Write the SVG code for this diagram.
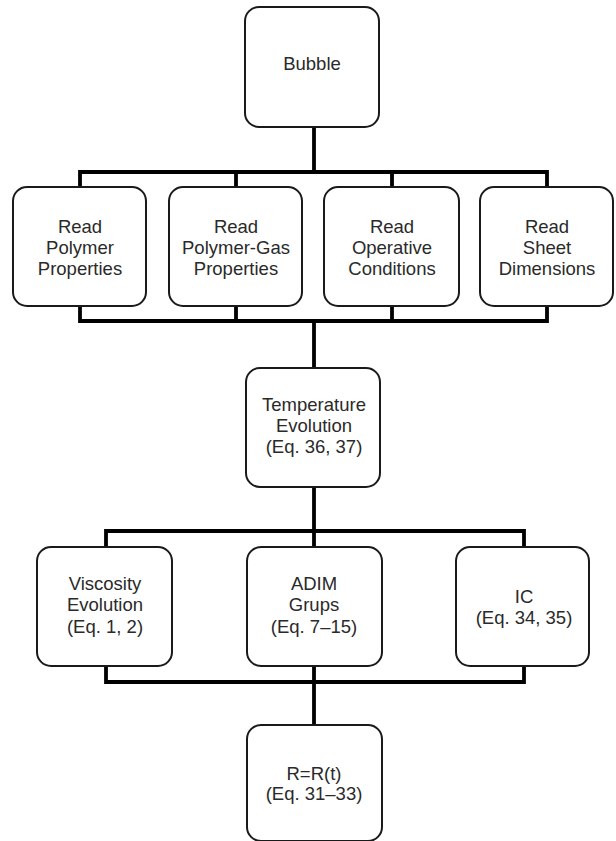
<svg xmlns="http://www.w3.org/2000/svg" width="616" height="841" viewBox="0 0 616 841">
<style>
.box{fill:#fff;stroke:#1a1a1a;stroke-width:2}
.t{font-family:"Liberation Sans",Arial,sans-serif;font-size:18.5px;fill:#2a2a2a;text-anchor:middle}
.c{fill:none;stroke:#000;stroke-width:3.8;stroke-linecap:square}
</style>
<rect width="616" height="841" fill="#fff"/>
<g id="connectors">
<path class="c" d="M314 127V172M80 172H547M80 172V187M236 172V187M392 172V187M547 172V187"/>
<path class="c" d="M80 306V321M236 306V321M392 306V321M547 306V321M80 321H547M314 321V368"/>
<path class="c" d="M314 487V531M106 531H524M106 531V547M314 531V547M524 531V547"/>
<path class="c" d="M106 666V682M314 666V682M524 666V682M106 682H524M314 682V725"/>
</g>
<g id="bubble"><rect class="box" x="245" y="7" width="134" height="120" rx="14"/><text class="t" x="312" y="70">Bubble</text></g>
<g id="read-polymer"><rect class="box" x="13" y="187" width="133" height="119" rx="14"/><text class="t" x="80" y="233">Read</text><text class="t" x="80" y="254">Polymer</text><text class="t" x="80" y="275">Properties</text></g>
<g id="read-polymer-gas"><rect class="box" x="169" y="187" width="133" height="119" rx="14"/><text class="t" x="236" y="233">Read</text><text class="t" x="236" y="254">Polymer-Gas</text><text class="t" x="236" y="275">Properties</text></g>
<g id="read-operative"><rect class="box" x="324" y="187" width="135" height="119" rx="14"/><text class="t" x="392" y="233">Read</text><text class="t" x="392" y="254">Operative</text><text class="t" x="392" y="275">Conditions</text></g>
<g id="read-sheet"><rect class="box" x="480" y="187" width="133" height="119" rx="14"/><text class="t" x="547" y="233">Read</text><text class="t" x="547" y="254">Sheet</text><text class="t" x="547" y="275">Dimensions</text></g>
<g id="temperature"><rect class="box" x="246" y="368" width="134" height="119" rx="14"/><text class="t" x="314" y="411">Temperature</text><text class="t" x="314" y="432">Evolution</text><text class="t" x="314" y="453">(Eq. 36, 37)</text></g>
<g id="viscosity"><rect class="box" x="37" y="547" width="135" height="119" rx="14"/><text class="t" x="105" y="590">Viscosity</text><text class="t" x="105" y="611">Evolution</text><text class="t" x="105" y="633">(Eq. 1, 2)</text></g>
<g id="adim"><rect class="box" x="247" y="547" width="135" height="119" rx="14"/><text class="t" x="314" y="590">ADIM</text><text class="t" x="314" y="611">Grups</text><text class="t" x="314" y="633">(Eq. 7–15)</text></g>
<g id="ic"><rect class="box" x="456" y="547" width="133" height="119" rx="14"/><text class="t" x="524" y="603">IC</text><text class="t" x="524" y="624">(Eq. 34, 35)</text></g>
<g id="r"><rect class="box" x="247" y="725" width="135" height="116" rx="14"/><text class="t" x="314" y="780">R=R(t)</text><text class="t" x="314" y="800">(Eq. 31–33)</text></g>
</svg>
